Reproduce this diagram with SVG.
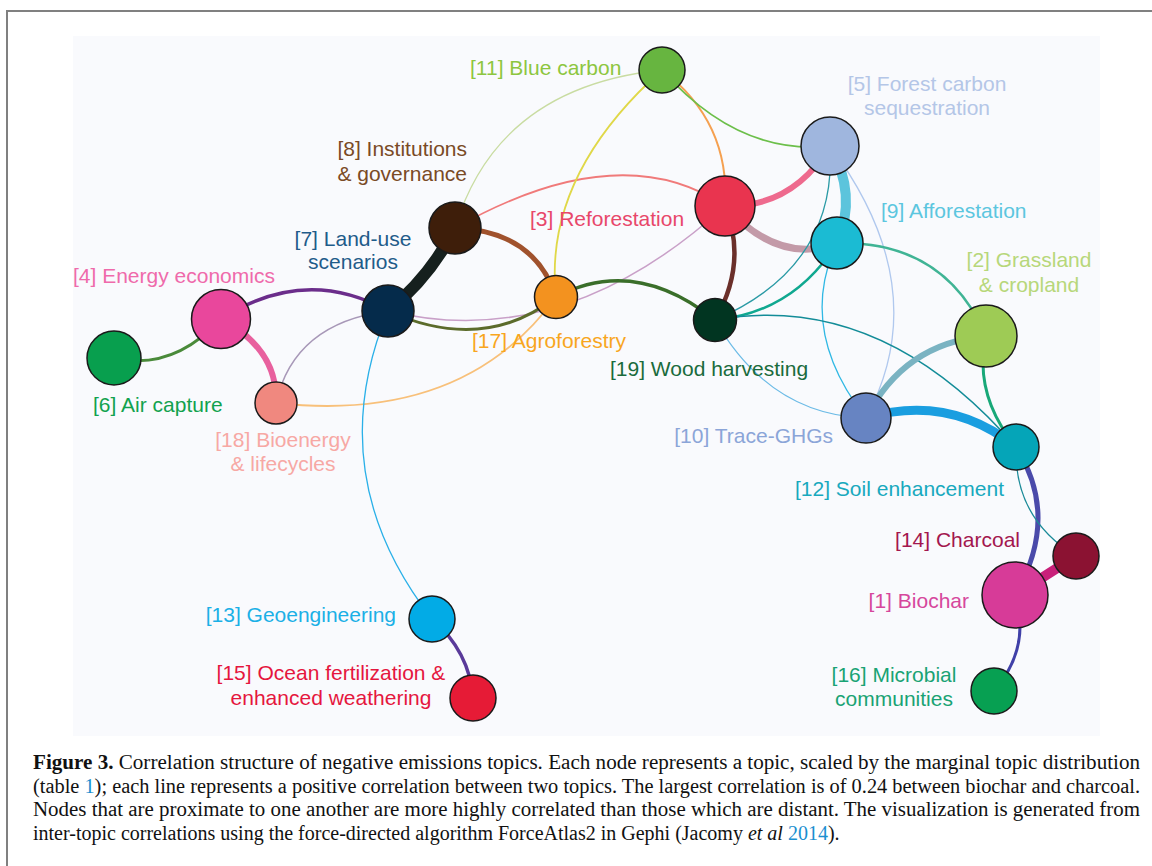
<svg xmlns="http://www.w3.org/2000/svg" width="1152" height="866" viewBox="0 0 1152 866">
<style>
.e{fill:none;stroke-linecap:round}
.n{stroke:#1a1a1a;stroke-width:1.5}
.l{font-family:"Liberation Sans",Arial,sans-serif;font-size:21px}
.c{font-family:"Liberation Serif","Times New Roman",serif;font-size:20px;fill:#111}
.m{text-anchor:middle}
.r{text-anchor:end}
</style>
<rect width="1152" height="866" fill="#ffffff"/>
<path d="M7,866 V11 H1152" fill="none" stroke="#808080" stroke-width="2"/>
<rect x="73" y="36" width="1027" height="700" fill="#f9fafd"/>
<g id="connectors">
<path class="e" d="M114,358 Q172.5,371.5 221,319" stroke="#4a8a3a" stroke-width="3"/>
<path class="e" d="M221,319 Q305.5,265 388,311" stroke="#6b2d8b" stroke-width="3.5"/>
<path class="e" d="M221,319 Q278,349 276,403" stroke="#e8609e" stroke-width="6"/>
<path class="e" d="M276,403 Q294,323 388,311" stroke="#a898b8" stroke-width="1.5"/>
<path class="e" d="M388,311 Q430.5,276.5 455,228" stroke="#16201e" stroke-width="12"/>
<path class="e" d="M455,228 Q534.5,230.8 556,297" stroke="#a0522d" stroke-width="5"/>
<path class="e" d="M455,228 Q497.5,87 662,70" stroke="#c9dca2" stroke-width="1.3"/>
<path class="e" d="M455,228 Q620,135 725,206" stroke="#f07a7a" stroke-width="1.8"/>
<path class="e" d="M662,70 Q543,176.5 556,297" stroke="#e0d848" stroke-width="1.8"/>
<path class="e" d="M662,70 Q730.5,122 725,206" stroke="#f5a050" stroke-width="2"/>
<path class="e" d="M662,70 Q738,156 830,146" stroke="#6cbf4a" stroke-width="1.8"/>
<path class="e" d="M725,206 Q792.5,208 830,146" stroke="#ee6a8e" stroke-width="6"/>
<path class="e" d="M725,206 Q779,265.5 837,243" stroke="#c39aa8" stroke-width="7"/>
<path class="e" d="M725,206 Q748,263 715,320" stroke="#6b2f2a" stroke-width="4.5"/>
<path class="e" d="M388,311 Q563.5,353.5 725,206" stroke="#c9a0c8" stroke-width="1.5"/>
<path class="e" d="M388,311 Q484,354 556,297" stroke="#5b6b2b" stroke-width="3"/>
<path class="e" d="M556,297 Q634.5,255.5 715,320" stroke="#3a6e2a" stroke-width="3.5"/>
<path class="e" d="M276,403 Q464,424 556,297" stroke="#f8c07a" stroke-width="1.8"/>
<path class="e" d="M388,311 Q320,475 432,619" stroke="#2ab0e8" stroke-width="1.3"/>
<path class="e" d="M432,619 Q469.5,651.5 473,698" stroke="#5a3a9a" stroke-width="3.5"/>
<path class="e" d="M830,146 Q858,195 837,243" stroke="#5cc4dc" stroke-width="10"/>
<path class="e" d="M830,146 Q837.5,267 715,320" stroke="#2a9aa5" stroke-width="1.3"/>
<path class="e" d="M830,146 Q936,288 866,418" stroke="#b0c8ee" stroke-width="1.3"/>
<path class="e" d="M837,243 Q794,312.5 715,320" stroke="#10a890" stroke-width="2.5"/>
<path class="e" d="M837,243 Q796.5,329.5 866,418" stroke="#30b8e4" stroke-width="1.3"/>
<path class="e" d="M837,243 Q944.5,240.5 986,336" stroke="#40b495" stroke-width="2.5"/>
<path class="e" d="M715,320 Q880,290 1016,447" stroke="#138c98" stroke-width="1.5"/>
<path class="e" d="M715,320 Q769.5,415 866,418" stroke="#6cbbe6" stroke-width="1.3"/>
<path class="e" d="M986,336 Q904,343 866,418" stroke="#7ab3c2" stroke-width="6"/>
<path class="e" d="M986,336 Q973,394.5 1016,447" stroke="#18a878" stroke-width="3"/>
<path class="e" d="M866,418 Q949,393.5 1016,447" stroke="#1a9ee0" stroke-width="9"/>
<path class="e" d="M1016,447 Q1060.5,517 1015,595" stroke="#4a4aaa" stroke-width="5"/>
<path class="e" d="M1016,447 Q1014,518.5 1076,556" stroke="#1a8a98" stroke-width="1.3"/>
<path class="e" d="M1076,556 L1015,595" stroke="#c8207a" stroke-width="10"/>
<path class="e" d="M1015,595 Q1031.5,647 994,691" stroke="#4040a8" stroke-width="3"/>
</g>
<g id="n11"><circle class="n" cx="662" cy="70" r="23" fill="#67b540"/><text class="l" x="470" y="75" fill="#8dc63f">[11] Blue carbon</text></g>
<g id="n5"><circle class="n" cx="830" cy="146" r="29" fill="#9fb6de"/><text class="l m" x="927" y="91" fill="#b4c6e7">[5] Forest carbon</text><text class="l m" x="927" y="115" fill="#b4c6e7">sequestration</text></g>
<g id="n3"><circle class="n" cx="725" cy="206" r="30" fill="#e9344f"/><text class="l" x="530" y="226" fill="#e8476a">[3] Reforestation</text></g>
<g id="n9"><circle class="n" cx="837" cy="243" r="26" fill="#1bbbd3"/><text class="l" x="881" y="218" fill="#5cc6df">[9] Afforestation</text></g>
<g id="n8"><circle class="n" cx="455" cy="228" r="26" fill="#3e1e0a"/><text class="l r" x="467" y="156" fill="#7a4a25">[8] Institutions</text><text class="l r" x="467" y="181" fill="#7a4a25">&amp; governance</text></g>
<g id="n7"><circle class="n" cx="388" cy="311" r="26" fill="#052b4b"/><text class="l m" x="353" y="246" fill="#1f5c8a">[7] Land-use</text><text class="l m" x="353" y="269" fill="#1f5c8a">scenarios</text></g>
<g id="n4"><circle class="n" cx="221" cy="319" r="29.5" fill="#e9479c"/><text class="l" x="73" y="283" fill="#ef6aab">[4] Energy economics</text></g>
<g id="n6"><circle class="n" cx="114" cy="358" r="27" fill="#089f4e"/><text class="l" x="93" y="412" fill="#12a24e">[6] Air capture</text></g>
<g id="n18"><circle class="n" cx="276" cy="403" r="21" fill="#f0887f"/><text class="l m" x="283" y="447" fill="#f7a8a4">[18] Bioenergy</text><text class="l m" x="283" y="471" fill="#f7a8a4">&amp; lifecycles</text></g>
<g id="n17"><circle class="n" cx="556" cy="297" r="21.5" fill="#f3921f"/><text class="l" x="472" y="348" fill="#f8a61e">[17] Agroforestry</text></g>
<g id="n19"><circle class="n" cx="715" cy="320" r="21.5" fill="#013521"/><text class="l" x="610" y="376" fill="#1a6b3c">[19] Wood harvesting</text></g>
<g id="n2"><circle class="n" cx="986" cy="336" r="31" fill="#9ecb55"/><text class="l m" x="1029" y="267" fill="#b7d77a">[2] Grassland</text><text class="l m" x="1029" y="292" fill="#b7d77a">&amp; cropland</text></g>
<g id="n10"><circle class="n" cx="866" cy="418" r="25" fill="#6784c2"/><text class="l r" x="833" y="443" fill="#8ba5d8">[10] Trace-GHGs</text></g>
<g id="n12"><circle class="n" cx="1016" cy="447" r="23" fill="#05a5b8"/><text class="l" x="795" y="496" fill="#18a9be">[12] Soil enhancement</text></g>
<g id="n14"><circle class="n" cx="1076" cy="556" r="23" fill="#8b1232"/><text class="l r" x="1020" y="547" fill="#a3174e">[14] Charcoal</text></g>
<g id="n1"><circle class="n" cx="1015" cy="595" r="33" fill="#d73b98"/><text class="l r" x="969" y="608" fill="#d6479c">[1] Biochar</text></g>
<g id="n16"><circle class="n" cx="994" cy="691" r="23" fill="#07a052"/><text class="l m" x="894" y="682" fill="#19a374">[16] Microbial</text><text class="l m" x="894" y="706" fill="#19a374">communities</text></g>
<g id="n13"><circle class="n" cx="432" cy="619" r="23" fill="#02abe6"/><text class="l r" x="396" y="622" fill="#1bb0e6">[13] Geoengineering</text></g>
<g id="n15"><circle class="n" cx="473" cy="698" r="23" fill="#e61b36"/><text class="l m" x="331" y="680" fill="#e5163e">[15] Ocean fertilization &amp;</text><text class="l m" x="331" y="705" fill="#e5163e">enhanced weathering</text></g>
<g id="caption">
<text class="c" x="33" y="769" textLength="1107" lengthAdjust="spacingAndGlyphs"><tspan font-weight="bold">Figure 3.</tspan>  Correlation structure of negative emissions topics. Each node represents a topic, scaled by the marginal topic distribution</text>
<text class="c" x="33" y="792.5" textLength="1107" lengthAdjust="spacingAndGlyphs">(table <tspan fill="#1a8fd0">1</tspan>); each line represents a positive correlation between two topics. The largest correlation is of 0.24 between biochar and charcoal.</text>
<text class="c" x="33" y="816" textLength="1107" lengthAdjust="spacingAndGlyphs">Nodes that are proximate to one another are more highly correlated than those which are distant. The visualization is generated from</text>
<text class="c" x="33" y="839.5">inter-topic correlations using the force-directed algorithm ForceAtlas2 in Gephi (Jacomy <tspan font-style="italic">et al</tspan> <tspan fill="#1a8fd0">2014</tspan>).</text>
</g>
</svg>
